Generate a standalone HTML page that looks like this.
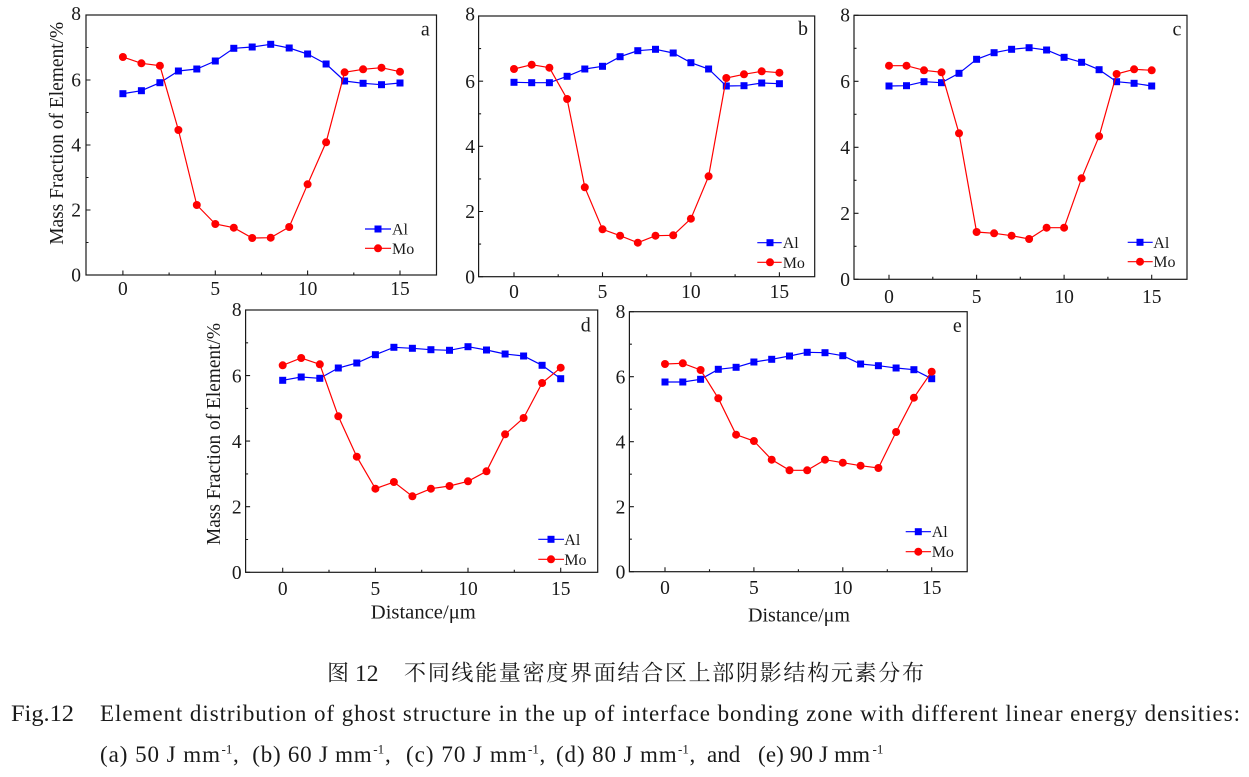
<!DOCTYPE html>
<html>
<head>
<meta charset="utf-8">
<style>
html,body{margin:0;padding:0;background:#fff;}
svg{display:block;}
text{font-family:"Liberation Serif","Noto Serif CJK SC",serif;fill:#1a1a1a;}
.cjk{font-family:"Liberation Serif","Noto Serif CJK SC","Noto Sans CJK SC",serif;}
.ax{fill:none;stroke:#1a1a1a;stroke-width:1.2;}
.tk{fill:none;stroke:#1a1a1a;stroke-width:1.1;}
.al{fill:none;stroke:#0000ff;stroke-width:1.2;marker-start:url(#sq);marker-mid:url(#sq);marker-end:url(#sq);}
.mo{fill:none;stroke:#ff0000;stroke-width:1.2;marker-start:url(#ci);marker-mid:url(#ci);marker-end:url(#ci);}
.lal{fill:none;stroke:#0000ff;stroke-width:1.2;marker-mid:url(#sq);}
.lmo{fill:none;stroke:#ff0000;stroke-width:1.2;marker-mid:url(#ci);}
.tl{font-size:19.5px;}
.lg{font-size:16px;}
.pl{font-size:20px;}
.cap{font-size:23px;}
.sup{font-size:13px;}
</style>
</head>
<body>
<svg width="1249" height="777" viewBox="0 0 1249 777" xmlns="http://www.w3.org/2000/svg">
<defs>
<marker id="sq" markerWidth="8" markerHeight="8" refX="4" refY="4" markerUnits="userSpaceOnUse"><rect x="0.5" y="0.5" width="7" height="7" fill="#0000ff"/></marker>
<marker id="ci" markerWidth="10" markerHeight="10" refX="5" refY="5" markerUnits="userSpaceOnUse"><circle cx="5" cy="5" r="4" fill="#ff0000"/></marker>
</defs>
<rect width="1249" height="777" fill="#fff"/>

<!-- ============ Panel a ============ -->
<rect class="ax" x="86" y="15" width="350.5" height="260"/>
<path class="tk" d="M122.9,275v-4.5M215.3,275v-4.5M307.6,275v-4.5M400,275v-4.5M169.1,275v-2.5M261.5,275v-2.5M353.8,275v-2.5
M86,275h4.5M86,210h4.5M86,145h4.5M86,80h4.5M86,15h4.5M86,242.5h2.5M86,177.5h2.5M86,112.5h2.5M86,47.5h2.5"/>
<g class="tl" text-anchor="end">
<text x="81" y="281.7">0</text><text x="81" y="216.7">2</text><text x="81" y="151.7">4</text><text x="81" y="86.7">6</text><text x="81" y="20">8</text>
</g>
<g class="tl" text-anchor="middle">
<text x="122.9" y="295">0</text><text x="215.3" y="295">5</text><text x="307.6" y="295">10</text><text x="400" y="295">15</text>
</g>
<text class="tl" transform="translate(63,133.3) rotate(-90)" text-anchor="middle" textLength="223" lengthAdjust="spacingAndGlyphs">Mass Fraction of Element/%</text>
<polyline class="al" points="122.9,93.7 141.4,90.7 159.9,82.7 178.4,71 196.8,69 215.3,61 233.8,48.3 252.2,47 270.7,44.3 289.2,48 307.6,54 326.1,64 344.6,81 363.1,83.3 381.5,84.7 400,83"/>
<polyline class="mo" points="122.9,57 141.4,63.3 159.9,65.7 178.4,130 196.8,205 215.3,224 233.8,227.7 252.2,238 270.7,237.7 289.2,227 307.6,184.3 326.1,142.3 344.6,72.3 363.1,69.3 381.5,67.7 400,71.7"/>
<path class="lal" d="M365,229 L378,229 L391,229"/>
<path class="lmo" d="M365,248.3 L378,248.3 L391,248.3"/>
<text class="lg" x="392" y="234.7">Al</text>
<text class="lg" x="392" y="253.8">Mo</text>
<text class="pl" x="425.3" y="35.5" text-anchor="middle">a</text>

<!-- ============ Panel b ============ -->
<rect class="ax" x="478.6" y="16" width="336.1" height="260.7"/>
<path class="tk" d="M514,276.7v-4.5M602.5,276.7v-4.5M690.9,276.7v-4.5M779.4,276.7v-4.5M558.2,276.7v-2.5M646.7,276.7v-2.5M735.1,276.7v-2.5
M478.6,276.7h4.5M478.6,211.5h4.5M478.6,146.3h4.5M478.6,81.2h4.5M478.6,16h4.5M478.6,244.1h2.5M478.6,178.9h2.5M478.6,113.8h2.5M478.6,48.6h2.5"/>
<g class="tl" text-anchor="end">
<text x="475" y="283.4">0</text><text x="475" y="218.2">2</text><text x="475" y="153">4</text><text x="475" y="87.9">6</text><text x="475" y="20.5">8</text>
</g>
<g class="tl" text-anchor="middle">
<text x="514" y="298">0</text><text x="602.5" y="298">5</text><text x="690.9" y="298">10</text><text x="779.4" y="298">15</text>
</g>
<polyline class="al" points="514,82.3 531.7,82.7 549.4,82.7 567.1,76.3 584.8,69 602.5,66.3 620.1,56.7 637.8,50.7 655.5,49.3 673.2,53 690.9,62.7 708.6,69 726.3,86 744,85.7 761.7,83 779.4,83.7"/>
<polyline class="mo" points="514,69 531.7,64.7 549.4,67.7 567.1,99 584.8,187.3 602.5,229.3 620.1,235.7 637.8,242.7 655.5,235.7 673.2,235.3 690.9,218.7 708.6,176.3 726.3,78 744,74.3 761.7,71.3 779.4,72.7"/>
<path class="lal" d="M757.3,242.7 L770,242.7 L781.7,242.7"/>
<path class="lmo" d="M757.3,262.3 L770,262.3 L781.7,262.3"/>
<text class="lg" x="782.7" y="248.2">Al</text>
<text class="lg" x="782.7" y="267.8">Mo</text>
<text class="pl" x="803" y="35" text-anchor="middle">b</text>

<!-- ============ Panel c ============ -->
<rect class="ax" x="854" y="15.3" width="333" height="264"/>
<path class="tk" d="M889,279.3v-4.5M976.6,279.3v-4.5M1064.1,279.3v-4.5M1151.7,279.3v-4.5M932.8,279.3v-2.5M1020.3,279.3v-2.5M1107.9,279.3v-2.5
M854,279.3h4.5M854,213.3h4.5M854,147.3h4.5M854,81.3h4.5M854,15.3h4.5M854,246.3h2.5M854,180.3h2.5M854,114.3h2.5M854,48.3h2.5"/>
<g class="tl" text-anchor="end">
<text x="850" y="286">0</text><text x="850" y="220">2</text><text x="850" y="154">4</text><text x="850" y="88">6</text><text x="850" y="21.5">8</text>
</g>
<g class="tl" text-anchor="middle">
<text x="889" y="303">0</text><text x="976.6" y="303">5</text><text x="1064.1" y="303">10</text><text x="1151.7" y="303">15</text>
</g>
<polyline class="al" points="889,86 906.5,85.7 924,81.7 941.5,82.7 959,73.3 976.6,59.3 994.1,52.7 1011.6,49.3 1029.1,47.7 1046.6,50 1064.1,57.3 1081.6,62.3 1099.1,69.7 1116.6,81.7 1134.1,83.3 1151.7,86"/>
<polyline class="mo" points="889,65.7 906.5,65.7 924,70.3 941.5,72.3 959,133.3 976.6,232 994.1,233.3 1011.6,235.7 1029.1,239 1046.6,227.7 1064.1,227.7 1081.6,178.3 1099.1,136.3 1116.6,74 1134.1,69.3 1151.7,70.3"/>
<path class="lal" d="M1127.7,242.3 L1140,242.3 L1152.7,242.3"/>
<path class="lmo" d="M1127.7,261.7 L1140,261.7 L1152.7,261.7"/>
<text class="lg" x="1153.3" y="247.8">Al</text>
<text class="lg" x="1153.3" y="267.2">Mo</text>
<text class="pl" x="1177" y="35.5" text-anchor="middle">c</text>

<!-- ============ Panel d ============ -->
<rect class="ax" x="245.6" y="310" width="352.1" height="262.3"/>
<path class="tk" d="M282.7,572.3v-4.5M375.4,572.3v-4.5M468,572.3v-4.5M560.7,572.3v-4.5M329,572.3v-2.5M421.7,572.3v-2.5M514.3,572.3v-2.5
M245.6,572.3h4.5M245.6,506.7h4.5M245.6,441.1h4.5M245.6,375.6h4.5M245.6,310h4.5M245.6,539.5h2.5M245.6,473.9h2.5M245.6,408.4h2.5M245.6,342.8h2.5"/>
<g class="tl" text-anchor="end">
<text x="241.6" y="579">0</text><text x="241.6" y="513.4">2</text><text x="241.6" y="447.8">4</text><text x="241.6" y="382.3">6</text><text x="241.6" y="316">8</text>
</g>
<g class="tl" text-anchor="middle">
<text x="282.7" y="595">0</text><text x="375.4" y="595">5</text><text x="468" y="595">10</text><text x="560.7" y="595">15</text>
</g>
<text class="tl" transform="translate(220,434) rotate(-90)" text-anchor="middle" textLength="222" lengthAdjust="spacingAndGlyphs">Mass Fraction of Element/%</text>
<text x="423.3" y="618.3" text-anchor="middle" style="font-size:20.5px" textLength="105" lengthAdjust="spacingAndGlyphs">Distance/μm</text>
<polyline class="al" points="282.7,380.3 301.2,377 319.8,378.3 338.3,368 356.8,363 375.4,354.7 393.9,347.3 412.4,348.3 430.9,349.7 449.5,350.3 468,346.7 486.5,350 505.1,354 523.6,356 542.1,365.3 560.7,378.7"/>
<polyline class="mo" points="282.7,365.3 301.2,358 319.8,364.3 338.3,416.3 356.8,456.7 375.4,488.7 393.9,482 412.4,496.3 430.9,488.7 449.5,486 468,481.3 486.5,471.3 505.1,434.3 523.6,418 542.1,383 560.7,367.7"/>
<path class="lal" d="M538.3,539.3 L551,539.3 L564,539.3"/>
<path class="lmo" d="M538.3,559.3 L551,559.3 L564,559.3"/>
<text class="lg" x="564.3" y="544.8">Al</text>
<text class="lg" x="564.3" y="564.8">Mo</text>
<text class="pl" x="585.7" y="331.7" text-anchor="middle">d</text>

<!-- ============ Panel e ============ -->
<rect class="ax" x="629.4" y="311.7" width="337.8" height="260"/>
<path class="tk" d="M665,571.7v-4.5M753.9,571.7v-4.5M842.8,571.7v-4.5M931.7,571.7v-4.5M709.5,571.7v-2.5M798.4,571.7v-2.5M887.3,571.7v-2.5
M629.4,571.7h4.5M629.4,506.7h4.5M629.4,441.7h4.5M629.4,376.7h4.5M629.4,311.7h4.5M629.4,539.2h2.5M629.4,474.2h2.5M629.4,409.2h2.5M629.4,344.2h2.5"/>
<g class="tl" text-anchor="end">
<text x="625.4" y="578.4">0</text><text x="625.4" y="513.4">2</text><text x="625.4" y="448.4">4</text><text x="625.4" y="383.4">6</text><text x="625.4" y="318">8</text>
</g>
<g class="tl" text-anchor="middle">
<text x="665" y="594">0</text><text x="753.9" y="594">5</text><text x="842.8" y="594">10</text><text x="931.7" y="594">15</text>
</g>
<text x="799" y="621.7" text-anchor="middle" style="font-size:20.5px" textLength="102" lengthAdjust="spacingAndGlyphs">Distance/μm</text>
<polyline class="al" points="665,382 682.8,382 700.6,379.3 718.3,369.3 736.1,367.3 753.9,362 771.7,359.3 789.5,356 807.2,352.3 825,352.7 842.8,355.7 860.6,364 878.4,365.7 896.1,368 913.9,369.7 931.7,378.7"/>
<polyline class="mo" points="665,364 682.8,363.3 700.6,370 718.3,398.3 736.1,434.7 753.9,441 771.7,459.7 789.5,470.3 807.2,470.3 825,459.7 842.8,462.7 860.6,465.7 878.4,468 896.1,432 913.9,397.7 931.7,371.7"/>
<path class="lal" d="M905.7,531.7 L918.3,531.7 L931,531.7"/>
<path class="lmo" d="M905.7,551.7 L918.3,551.7 L931,551.7"/>
<text class="lg" x="931.7" y="537.2">Al</text>
<text class="lg" x="931.7" y="557.2">Mo</text>
<text class="pl" x="957.3" y="332" text-anchor="middle">e</text>

<!-- ============ Captions ============ -->
<text class="cjk" x="327" y="680.5" style="font-size:22px">图</text>
<text class="cap" x="355" y="681" textLength="23.5" lengthAdjust="spacingAndGlyphs">12</text>
<text class="cjk" x="404" y="680.5" style="font-size:22px" textLength="520" lengthAdjust="spacing">不同线能量密度界面结合区上部阴影结构元素分布</text>

<text class="cap" x="11" y="721" textLength="63" lengthAdjust="spacingAndGlyphs">Fig.12</text>
<text class="cap" x="100" y="721" textLength="1140" lengthAdjust="spacing">Element distribution of ghost structure in the up of interface bonding zone with different linear energy densities:</text>

<text class="cap" x="100" y="762" textLength="120" lengthAdjust="spacing">(a) 50 J mm</text>
<text class="sup" x="221.5" y="753.3">-1</text>
<text class="cap" x="233" y="762">,</text>
<text class="cap" x="252.3" y="762" textLength="119.4" lengthAdjust="spacing">(b) 60 J mm</text>
<text class="sup" x="373.3" y="753.3">-1</text>
<text class="cap" x="385" y="762">,</text>
<text class="cap" x="406" y="762" textLength="120.7" lengthAdjust="spacing">(c) 70 J mm</text>
<text class="sup" x="528" y="753.3">-1</text>
<text class="cap" x="539.5" y="762">,</text>
<text class="cap" x="556" y="762" textLength="120.7" lengthAdjust="spacing">(d) 80 J mm</text>
<text class="sup" x="678" y="753.3">-1</text>
<text class="cap" x="689.5" y="762">,</text>
<text class="cap" x="707" y="762">and</text>
<text class="cap" x="758" y="762" textLength="112" lengthAdjust="spacing">(e) 90 J mm</text>
<text class="sup" x="872.5" y="753.3">-1</text>
</svg>
</body>
</html>
